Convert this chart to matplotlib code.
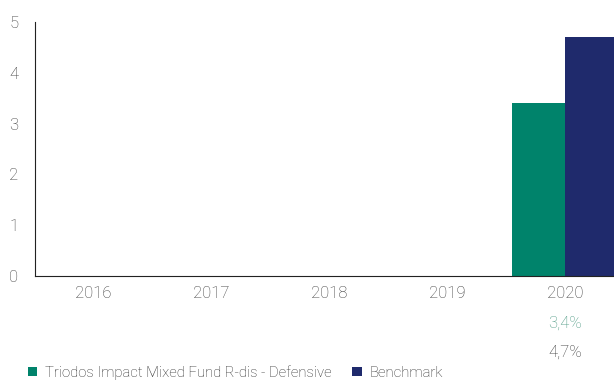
import numpy as np
import matplotlib.pyplot as plt

# data
jaren = ['2016', '2017', '2018', '2019', '2020']
fonds = [0, 0, 0, 0, 3.4]
benchmark = [0, 0, 0, 0, 4.7]
fonds_naam = 'Triodos Impact Mixed Fund R-dis - Defensive'
bench_naam = 'Benchmark'

groen = '#00836b'
blauw = '#1f2a6c'
grijs = '#3c3c3c'

plt.rcParams['font.family'] = ['Roboto', 'DejaVu Sans']
plt.rcParams['font.weight'] = 'light'

fig = plt.figure(figsize=(6.14, 3.81), dpi=100)
ax = fig.add_axes([35/614, 105/381, 579/614, 254/381])

x = np.arange(len(jaren))
b = 0.45
ax.bar(x - b/2, fonds, b, color=groen, label=fonds_naam)
ax.bar(x + b/2, benchmark, b, color=blauw, label=bench_naam)

ax.set_xlim(-0.49, 4.415)
ax.set_ylim(0, 5)
ax.set_yticks(range(6))
ax.set_xticks(x)
ax.set_xticklabels(jaren)
ax.tick_params(length=0, labelsize=12, colors=grijs, pad=7)
ax.tick_params(axis='y', pad=12)
for s in ['top', 'right']:
    ax.spines[s].set_visible(False)
ax.spines['left'].set_color('#222222')
ax.spines['bottom'].set_color('#222222')

# percentages onder het laatste jaar
trans = ax.get_xaxis_transform()
ax.text(x[-1], -0.185, f"{fonds[-1]:.1f}".replace('.', ',') + '%', transform=trans,
        ha='center', va='center', fontsize=12, color='#4f9a84')
ax.text(x[-1], -0.3, f"{benchmark[-1]:.1f}".replace('.', ',') + '%', transform=trans,
        ha='center', va='center', fontsize=12, color=grijs)

fig.legend(loc='upper left', bbox_to_anchor=(0.045, 16/381), ncol=2, frameon=False,
           fontsize=10.7, handlelength=0.65, handleheight=0.65, handletextpad=0.5,
           columnspacing=1.4, labelcolor='#2a2a2a', borderaxespad=0, borderpad=0)

fig.savefig('out.png', dpi=100)
